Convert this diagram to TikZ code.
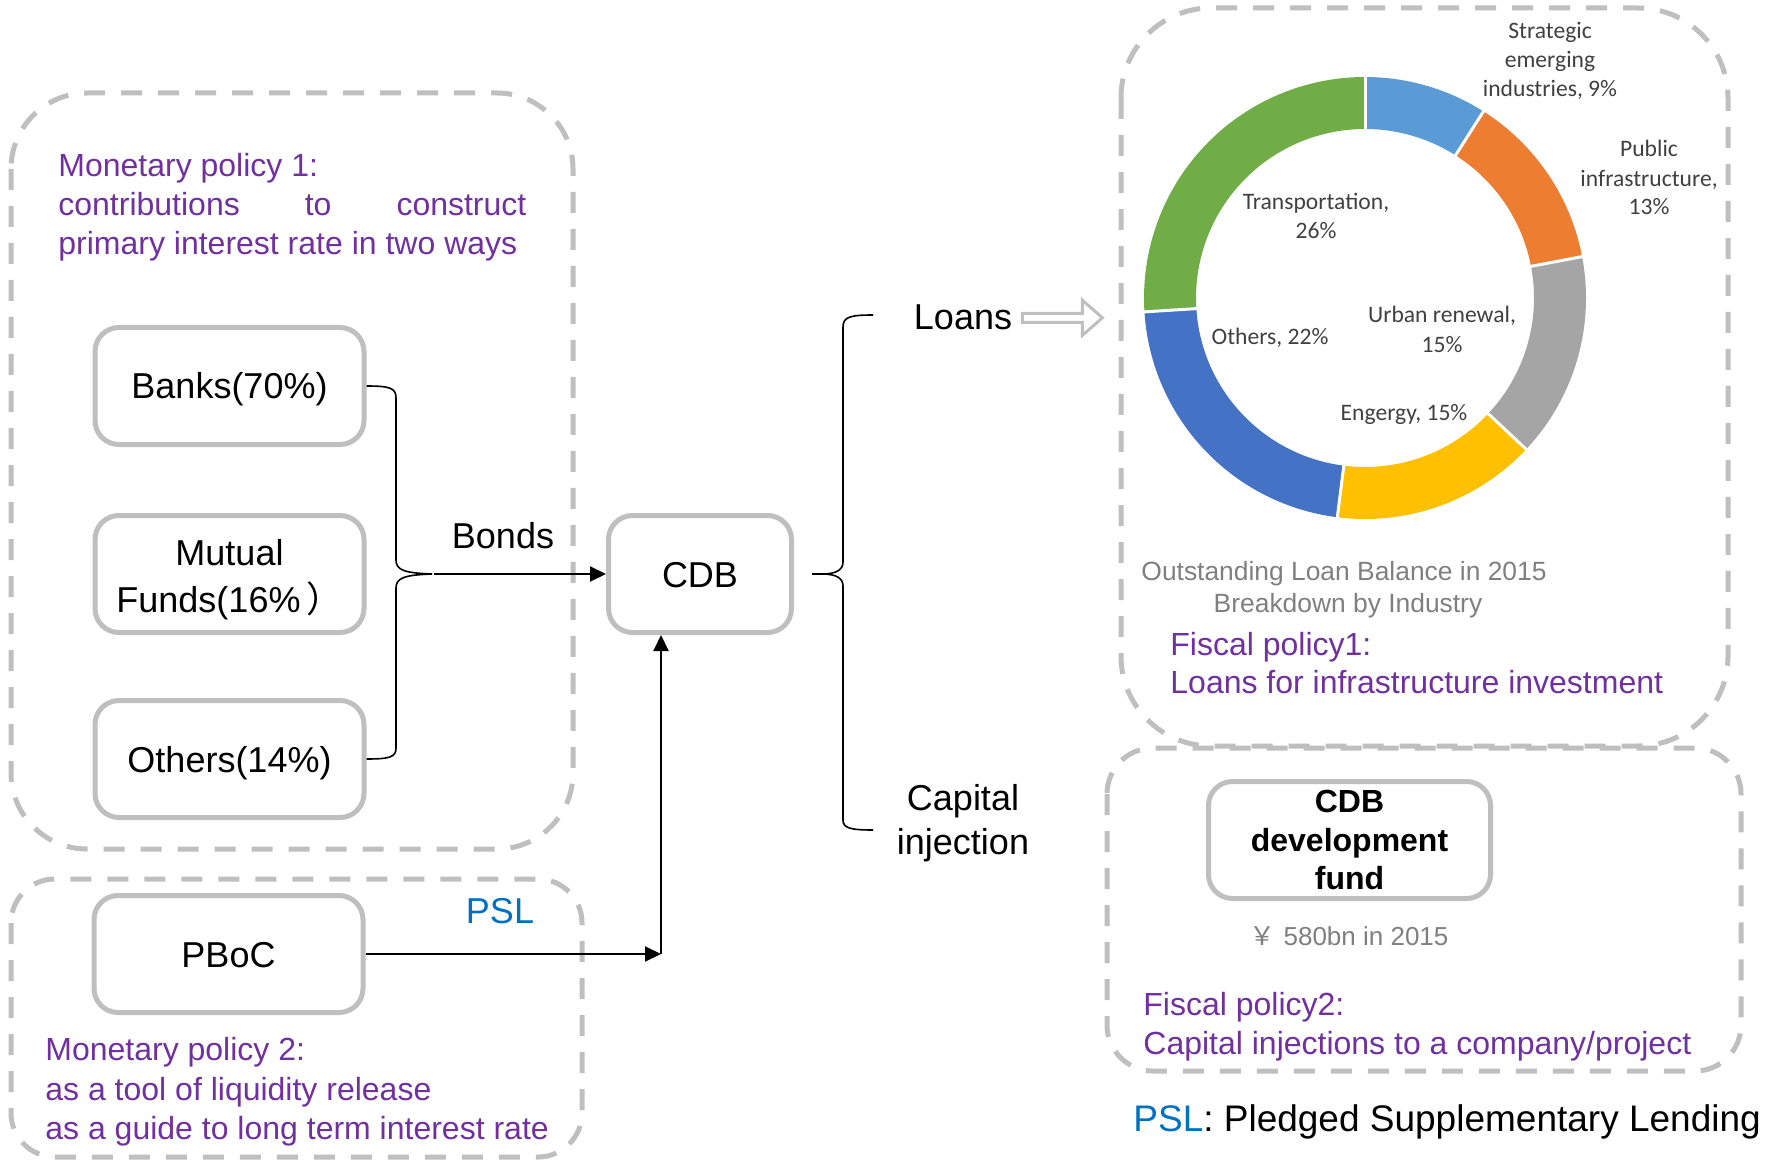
\documentclass[tikz,border=0pt]{standalone}
\usepackage{fontspec}
\setmainfont{Liberation Sans}
\newfontfamily\calib{Carlito}
\newfontfamily\cjk{Noto Sans CJK SC}
\usetikzlibrary{arrows.meta}
\definecolor{boxgray}{HTML}{BFBFBF}
\definecolor{purp}{HTML}{7030A0}
\definecolor{pslblue}{HTML}{0070C0}
\definecolor{lblgray}{HTML}{404040}
\definecolor{capgray}{HTML}{7F7F7F}
\definecolor{cS}{HTML}{5B9BD5}
\definecolor{cP}{HTML}{ED7D31}
\definecolor{cU}{HTML}{A5A5A5}
\definecolor{cE}{HTML}{FFC000}
\definecolor{cO}{HTML}{4472C4}
\definecolor{cT}{HTML}{70AD47}
\begin{document}
\begin{tikzpicture}[x=0.5pt,y=-0.5pt,
  dbox/.style={draw=boxgray, line width=2.5pt, dash pattern=on 10.5pt off 8pt},
  sbox/.style={draw=boxgray, line width=2.5pt, rounded corners=12pt, inner sep=0pt, align=center, font=\fontsize{18}{23.5}\selectfont},
  onebox/.style={sbox, text height=13pt, text depth=0pt},
  ptxt/.style={text=purp, font=\fontsize{16}{19}\selectfont, anchor=base west, inner sep=0pt},
  btxt/.style={font=\fontsize{18}{22}\selectfont, anchor=base, inner sep=0pt},
  clbl/.style={text=lblgray, font=\calib\fontsize{11.8}{14}\selectfont, anchor=base, inner sep=0pt},
  gtxt/.style={text=capgray, font=\fontsize{13.2}{16}\selectfont, anchor=base, inner sep=0pt},
  arr/.style={line width=1pt, -{Triangle[length=8pt,width=7.5pt]}},
  brc/.style={line width=0.8pt}]
\useasboundingbox (0,0) rectangle (1771,1160);

% dashed group boxes
\draw[dbox, rounded corners=38pt] (11,93) rectangle (573,849);
\draw[dbox, rounded corners=22pt] (11,879) rectangle (582,1157);
\draw[dbox, rounded corners=45pt] (1121,8) rectangle (1728,746);
\draw[dbox, rounded corners=23pt] (1107,748) rectangle (1741,1071);

% Monetary policy 1
\node[ptxt] (mp1a) at (58,177) {Monetary policy 1:};
\node[ptxt] (mp1b) at (58,215.5) {\hbox to 234pt{contributions\hfill to\hfill construct}};
\node[ptxt] (mp1c) at (58,254.5) {primary interest rate in two ways};

% source boxes
\node[onebox, minimum width=134.5pt, minimum height=58.5pt] (banks) at (229.5,386) {Banks(70\%)};
\node[sbox, minimum width=134.5pt, minimum height=58.5pt] (mutual) at (229.5,574) {\rule{0pt}{18.5pt}Mutual\\Funds(16\%\hspace{3pt}{\cjk ）}};
\node[onebox, minimum width=134.5pt, minimum height=58.5pt] (others) at (229.5,759) {Others(14\%)};
\node[onebox, minimum width=134.5pt, minimum height=58.5pt] (pboc) at (228.5,954) {PBoC};
\node[onebox, minimum width=91.5pt, minimum height=58.5pt] (cdb) at (700,574) {CDB};
\node[sbox, minimum width=141pt, minimum height=58.5pt, font=\bfseries\fontsize{16}{19.25}\selectfont] (fund) at (1349.5,840) {CDB\\development\\fund};

% left brace and Bonds arrow
\coordinate (lt) at (432,574);
\draw[brc] (banks.east) .. controls (390,386) and (396,388) .. (396,398) -- (396,560)
  .. controls (396,570) and (404,573) .. (lt)
  .. controls (404,575) and (396,578) .. (396,588) -- (396,748)
  .. controls (396,757) and (390,759) .. (others.east);
\draw[arr] ([xshift=1pt]lt) -- (cdb.west);
\node[btxt] (bonds) at (503,548) {Bonds};

% right brace
\coordinate (rtop) at (873,315);
\coordinate (rt) at (812,574);
\coordinate (rbot) at (873,830);
\draw[brc] (rtop) .. controls (850,315) and (843,317) .. (843,327) -- (843,562)
  .. controls (843,570) and (836,574) .. (822,574) -- (rt) -- (822,574)
  .. controls (836,574) and (843,578) .. (843,586) -- (843,820)
  .. controls (843,828) and (850,830) .. (rbot);
\node[btxt] (loans) at (963,330) {Loans};
\node[btxt] (cap1) at (963,810) {Capital};
\node[btxt] (cap2) at (963,854) {injection};

% hollow arrow from Loans to the chart
\path (loans.east) ++(10,0) coordinate (la);
\draw[boxgray, line width=1.5pt, line join=miter] (la) ++(0,-4.5) -- ++(60,0) -- ++(0,-13) -- ++(20,17.5) -- ++(-20,17.5) -- ++(0,-13) -- ++(-60,0) -- cycle;

% PBoC -> CDB
\coordinate (pc) at (661,954);
\draw[arr] (pboc.east) -- (pc);
\draw[arr] (pc) -- (pc |- cdb.south);
\node[btxt, text=pslblue] (psl) at (500,923) {PSL};

% Monetary policy 2
\node[ptxt] (mp2a) at (45,1060) {Monetary policy 2:};
\node[ptxt] (mp2b) at (45,1100) {as a tool of liquidity release};
\node[ptxt] (mp2c) at (45,1139) {as a guide to long term interest rate};

% donut chart
\begin{scope}[shift={(1365,298)}, yscale=-1]
\foreach \a/\b/\c in {90/57.6/cS, 57.6/10.8/cP, 10.8/-43.2/cU, -43.2/-97.2/cE, -97.2/-176.4/cO, -176.4/-270/cT}
  \fill[\c] (\a:221) arc[start angle=\a, end angle=\b, radius=221] -- (\b:169) arc[start angle=\b, end angle=\a, radius=169] -- cycle;
\foreach \a in {90,57.6,10.8,-43.2,-97.2,-176.4}
  \draw[white, line width=1.5pt] (\a:165) -- (\a:225);
\end{scope}

% chart labels
\node[clbl] (s1) at (1550,38.6) {Strategic};
\node[clbl] (s2) at (1550,68) {emerging};
\node[clbl] (s3) at (1550,96.4) {industries, 9\%};
\node[clbl] (p1) at (1649,157) {Public};
\node[clbl] (p2) at (1649,187) {infrastructure,};
\node[clbl] (p3) at (1649,215) {13\%};
\node[clbl] (t1) at (1316,210) {Transportation,};
\node[clbl] (t2) at (1316,239) {26\%};
\node[clbl] (u1) at (1442,323) {Urban renewal,};
\node[clbl] (u2) at (1442,353) {15\%};
\node[clbl] (o1) at (1270,345) {Others, 22\%};
\node[clbl] (e1) at (1404,421) {Engergy, 15\%};

% captions
\node[gtxt] (cap3) at (1344,580) {Outstanding Loan Balance in 2015};
\node[gtxt] (cap4) at (1348,612) {Breakdown by Industry};
\node[ptxt] (fp1a) at (1170,655) {Fiscal policy1:};
\node[ptxt] (fp1b) at (1170,693) {Loans for infrastructure investment};
\node[gtxt, font=\fontsize{13}{16}\selectfont] (yen) at (1349,945) {{\cjk ￥}\hspace{4pt}580bn in 2015};
\node[ptxt] (fp2a) at (1143,1015.5) {Fiscal policy2:};
\node[ptxt] (fp2b) at (1143,1054) {Capital injections to a company/project};

% legend
\node[anchor=base west, inner sep=0pt, font=\fontsize{18.5}{22}\selectfont] (legend) at (1133,1131) {\textcolor{pslblue}{PSL}: Pledged Supplementary Lending};
\end{tikzpicture}
\end{document}
